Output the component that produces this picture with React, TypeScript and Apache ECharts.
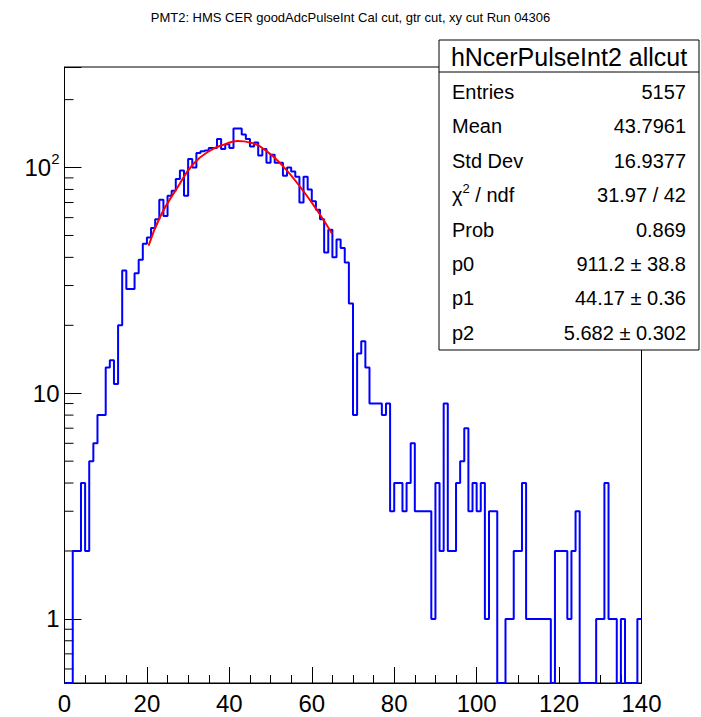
import React, { useEffect, useRef } from "react";
import * as echarts from "echarts";

// ---- data ----
const binLow = 0;
const binWidth = 1;
const counts = [
  0, 0, 2, 2, 4, 2, 5, 6, 8, 8,
  13, 14, 11, 20, 35, 29, 29, 34, 39, 46,
  49, 54, 59, 72, 61, 75, 79, 89, 97, 75,
  109, 100, 116, 118, 119, 122, 122, 134, 121, 127,
  122, 149, 149, 140, 134, 124, 129, 113, 121, 105,
  114, 105, 105, 92, 100, 96, 91, 70, 91, 80,
  71, 65, 59, 42, 53, 40, 48, 44, 38, 25,
  8, 15, 17, 13, 9, 9, 9, 8, 9, 3,
  4, 4, 3, 4, 6, 3, 3, 3, 3, 1,
  4, 2, 9, 2, 2, 4, 5, 7, 3, 4,
  3, 4, 1, 3, 3, 0, 0, 1, 1, 2,
  2, 4, 1, 1, 1, 1, 1, 1, 0, 2,
  2, 2, 1, 2, 3, 0, 0, 0, 0, 1,
  1, 4, 1, 1, 0, 1, 0, 0, 0, 1,
];
const fitX = [20.4, 23.3, 27.3, 31.3, 35.4, 39, 42, 45.1, 49.1, 53.1, 57.2, 61.2, 64.9];
const fitY = [45, 61, 81, 104, 119, 127, 131, 129, 118, 101, 82, 65, 51];

const xMin = 0;
const xMax = 140;
const xMajor = 20;
const yMin = 0.52;
const yMax = 279;
const yMinorTicks = [0.6, 0.7, 0.8, 0.9, 2, 3, 4, 5, 6, 7, 8, 9, 20, 30, 40, 50, 60, 70, 80, 90, 200];

const titleText = "PMT2: HMS CER goodAdcPulseInt Cal cut, gtr cut, xy cut Run 04306";
const statsTitle = "hNcerPulseInt2 allcut";
const statsNames = ["Entries", "Mean", "Std Dev", "{n|χ}{s|2}{n| / ndf}", "Prob", "p0", "p1", "p2"];
const statsValues = ["5157", "43.7961", "16.9377", "31.97 / 42", "0.869", "911.2 ± 38.8", "44.17 ± 0.36", "5.682 ± 0.302"];

const FONT = "'Liberation Sans', Arial, Helvetica, sans-serif";

export default function App() {
  const ref = useRef<HTMLDivElement>(null);
  useEffect(() => {
    if (!ref.current) return;
    const chart = echarts.init(ref.current, null, { renderer: "svg" });

    const histData: number[][] = counts.map((c, i) => [binLow + i * binWidth, c > 0 ? c : yMin]);
    const last = counts[counts.length - 1];
    histData.push([binLow + counts.length * binWidth, last > 0 ? last : yMin]);
    const fitData = fitX.map((x, i) => [x, fitY[i]]);

    const boxX = 439, boxY = 40, boxW = 260, boxH = 310, headH = 32, rowH = 34.4;
    const graphics: any[] = [
      {
        type: "rect",
        shape: { x: boxX, y: boxY, width: boxW, height: boxH },
        style: { fill: "#fff", stroke: "#000", lineWidth: 1 },
        z: 100,
      },
      {
        type: "line",
        shape: { x1: boxX, y1: boxY + headH, x2: boxX + boxW, y2: boxY + headH },
        style: { stroke: "#000", lineWidth: 1 },
        z: 101,
      },
      {
        type: "text",
        x: boxX + boxW / 2,
        y: boxY + headH / 2 + 1,
        style: { text: statsTitle, fontSize: 25, fontFamily: FONT, fill: "#000", align: "center", verticalAlign: "middle" },
        z: 101,
      },
    ];
    statsNames.forEach((n, i) => {
      const cy = 92 + i * rowH;
      graphics.push({
        type: "text",
        x: 452,
        y: cy,
        style: {
          text: n,
          fontSize: 20,
          fontFamily: FONT,
          fill: "#000",
          align: "left",
          verticalAlign: "middle",
          rich: {
            n: { fontSize: 20, fontFamily: FONT, fill: "#000", lineHeight: 26 },
            s: { fontSize: 13, fontFamily: FONT, fill: "#000", verticalAlign: "top", lineHeight: 13 },
          },
        },
        z: 101,
      });
      graphics.push({
        type: "text",
        x: 686,
        y: cy,
        style: { text: statsValues[i], fontSize: 20, fontFamily: FONT, fill: "#000", align: "right", verticalAlign: "middle" },
        z: 101,
      });
    });

    chart.setOption({
      animation: false,
      backgroundColor: "#fff",
      title: {
        text: titleText,
        left: "center",
        top: 6,
        textStyle: { fontSize: 13, fontWeight: "normal", fontFamily: FONT, color: "#000" },
      },
      grid: {
        left: 64.5,
        right: 59.5,
        top: 67,
        bottom: 34,
        show: true,
        borderColor: "#000",
        borderWidth: 1,
        backgroundColor: "transparent",
      },
      xAxis: {
        type: "value",
        min: xMin,
        max: xMax,
        interval: xMajor,
        axisLine: { show: true, lineStyle: { color: "#000", width: 1 } },
        axisTick: { show: true, inside: true, length: 16, lineStyle: { color: "#000" } },
        minorTick: { show: true, splitNumber: 4, length: 8, lineStyle: { color: "#000" } },
        splitLine: { show: false },
        axisLabel: { fontSize: 24, fontFamily: FONT, color: "#000", margin: 8 },
      },
      yAxis: {
        type: "log",
        logBase: 10,
        min: yMin,
        max: yMax,
        axisLine: { show: true, lineStyle: { color: "#000", width: 1 } },
        axisTick: { show: true, inside: true, length: 17, lineStyle: { color: "#000" } },
        minorTick: { show: false },
        splitLine: { show: false },
        axisLabel: {
          margin: 5,
          color: "#000",
          fontFamily: FONT,
          fontSize: 24,
          formatter: (v: number) => {
            const e = Math.log10(v);
            const r = Math.round(e);
            if (Math.abs(e - r) > 1e-6) return "";
            if (r === 0) return "{b|1}";
            if (r === 1) return "{b|10}";
            if (r === 2) return "{b|10}{s|2}";
            return "";
          },
          rich: {
            b: { fontSize: 24, fontFamily: FONT, color: "#000", lineHeight: 34 },
            s: { fontSize: 15, fontFamily: FONT, color: "#000", verticalAlign: "top", lineHeight: 15 },
          },
        },
      },
      series: [
        {
          type: "line",
          step: "end",
          data: histData,
          symbol: "none",
          lineStyle: { color: "#0000ff", width: 2 },
          z: 5,
        },
        {
          type: "line",
          data: fitData,
          smooth: true,
          symbol: "none",
          lineStyle: { color: "#ff0000", width: 2 },
          z: 6,
        },
        {
          type: "custom",
          data: yMinorTicks.map((v) => [xMin, v]),
          silent: true,
          clip: false,
          z: 4,
          renderItem: (_params: any, api: any) => {
            const p = api.coord([xMin, api.value(1)]);
            return {
              type: "line",
              shape: { x1: p[0], y1: p[1], x2: p[0] + 9, y2: p[1] },
              style: { stroke: "#000", lineWidth: 1 },
            };
          },
        },
      ],
      graphic: graphics,
    });
    return () => chart.dispose();
  }, []);
  return (
    <div
      ref={ref}
      style={{ position: "absolute", left: 0, top: 0, width: 701, height: 717, background: "#fff" }}
    />
  );
}
